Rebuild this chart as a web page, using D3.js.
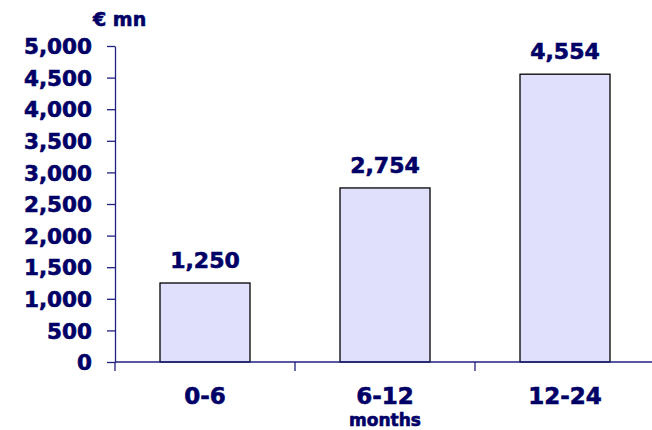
<!DOCTYPE html>
<html>
<head>
<meta charset="utf-8">
<script src="https://cdn.jsdelivr.net/npm/d3@7"></script>
<style>
  body { margin: 0; background: #fff; }
  text {
    font-family: "DejaVu Sans", Verdana, sans-serif;
    font-weight: bold;
    fill: #000066;
    stroke: #000066;
    stroke-width: 0.6px;
  }
</style>
</head>
<body>
<div id="chart"></div>
<script>
// DATA
const categories = ["0-6", "6-12", "12-24"]
const values = [1250, 2754, 4554]
const yTicks = [0, 500, 1000, 1500, 2000, 2500, 3000, 3500, 4000, 4500, 5000]
const unitLabel = "€ mn"
const xTitle = "months"

// DIMENSIONS
const dimensions = {
  width: 652,
  height: 430,
  margin: { top: 46, right: -3, bottom: 68, left: 115 },
}
dimensions.boundedWidth = dimensions.width - dimensions.margin.left - dimensions.margin.right
dimensions.boundedHeight = dimensions.height - dimensions.margin.top - dimensions.margin.bottom

const navy = "#000066"
const axisColor = "#202080"

const wrapper = d3.select("#chart")
  .append("svg")
  .attr("width", dimensions.width)
  .attr("height", dimensions.height)

const bounds = wrapper.append("g")
  .attr("transform", `translate(${dimensions.margin.left},${dimensions.margin.top})`)

// SCALES
const xScale = d3.scaleBand()
  .domain(categories)
  .range([0, dimensions.boundedWidth])
  .paddingInner(0.5)
  .paddingOuter(0.25)

const yScale = d3.scaleLinear()
  .domain([0, 5000])
  .range([dimensions.boundedHeight, 0])

// BARS
bounds.append("g")
  .selectAll("rect")
  .data(values)
  .join("rect")
    .attr("x", (d, i) => xScale(categories[i]))
    .attr("y", d => yScale(d))
    .attr("width", xScale.bandwidth())
    .attr("height", d => yScale(0) - yScale(d))
    .attr("fill", "#e0e0fc")
    .attr("stroke", "#000")
    .attr("stroke-width", 1.3)

// Y AXIS
const yAxis = bounds.append("g")
  .call(d3.axisLeft(yScale)
    .tickValues(yTicks)
    .tickFormat(d3.format(","))
    .tickSize(8)
    .tickPadding(15)
    .tickSizeOuter(0))
yAxis.select(".domain").attr("stroke", axisColor).attr("stroke-width", 1.3)
yAxis.selectAll(".tick line").attr("stroke", axisColor).attr("stroke-width", 1.3)
yAxis.selectAll(".tick text")
  .attr("font-size", 21.5)
  .attr("fill", navy)
  .attr("dy", "0.36em")

// X AXIS
const bandStarts = categories.map(c => xScale(c) - xScale.step() * xScale.paddingInner() / 2)
const xTickPositions = [...bandStarts, dimensions.boundedWidth]
const xAxis = bounds.append("g")
  .attr("transform", `translate(0,${dimensions.boundedHeight})`)
xAxis.append("line")
  .attr("x1", 0)
  .attr("x2", dimensions.boundedWidth)
  .attr("stroke", axisColor)
  .attr("stroke-width", 1.3)
xAxis.selectAll(".xtick")
  .data(xTickPositions)
  .join("line")
    .attr("class", "xtick")
    .attr("x1", d => d)
    .attr("x2", d => d)
    .attr("y1", 0)
    .attr("y2", 9)
    .attr("stroke", axisColor)
    .attr("stroke-width", 1.3)
xAxis.selectAll(".xlabel")
  .data(categories)
  .join("text")
    .attr("class", "xlabel")
    .attr("x", d => xScale(d) + xScale.bandwidth() / 2)
    .attr("y", 42)
    .attr("text-anchor", "middle")
    .attr("font-size", 23)
    .text(d => d)

xAxis.append("text")
  .attr("x", xScale(categories[1]) + xScale.bandwidth() / 2)
  .attr("y", 64)
  .attr("text-anchor", "middle")
  .attr("font-size", 17)
  .text(xTitle)

// VALUE LABELS
bounds.append("g")
  .selectAll("text")
  .data(values)
  .join("text")
    .attr("x", (d, i) => xScale(categories[i]) + xScale.bandwidth() / 2)
    .attr("y", d => yScale(d) - 15)
    .attr("text-anchor", "middle")
    .attr("font-size", 22)
    .text(d => d3.format(",")(d))

// UNIT LABEL
wrapper.append("text")
  .attr("x", 93)
  .attr("y", 26)
  .attr("font-size", 19)
  .text(unitLabel)
</script>
</body>
</html>
